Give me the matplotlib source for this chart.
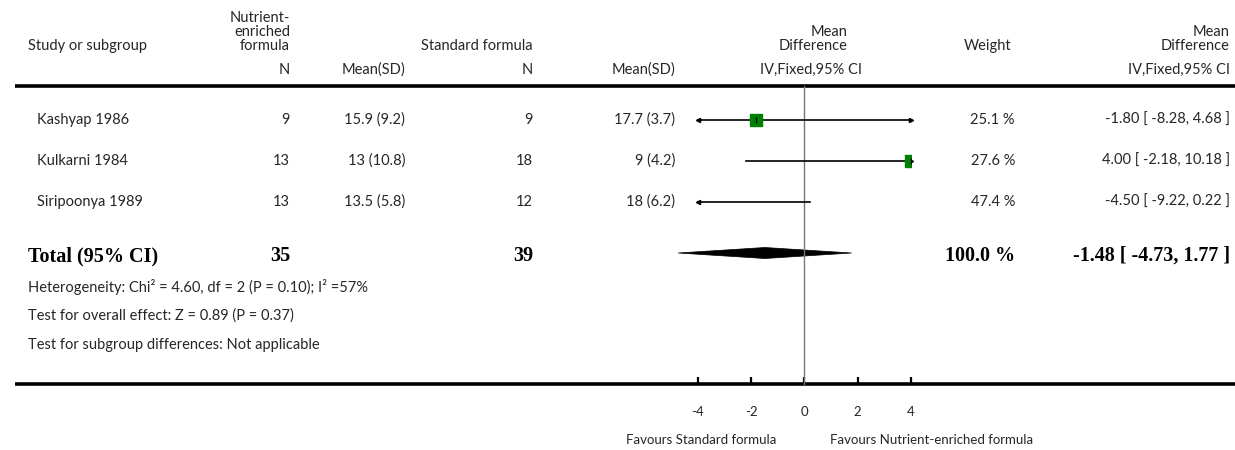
import matplotlib
matplotlib.use("Agg")
import matplotlib.pyplot as plt
from matplotlib.patches import Polygon

# ---------- data ----------
studies = ["Kashyap 1986", "Kulkarni 1984", "Siripoonya 1989"]
n_enriched = [9, 13, 13]
mean_sd_enriched = ["15.9 (9.2)", "13 (10.8)", "13.5 (5.8)"]
n_standard = [9, 18, 12]
mean_sd_standard = ["17.7 (3.7)", "9 (4.2)", "18 (6.2)"]
md = [-1.80, 4.00, -4.50]
ci_low = [-8.28, -2.18, -9.22]
ci_high = [4.68, 10.18, 0.22]
weights = [25.1, 27.6, 47.4]

total_n_enriched = 35
total_n_standard = 39
total_md = -1.48
total_low = -4.73
total_high = 1.77
total_weight = 100.0

heterogeneity = "Heterogeneity: Chi\u00b2 = 4.60, df = 2 (P = 0.10); I\u00b2 =57%"
overall_effect = "Test for overall effect: Z = 0.89 (P = 0.37)"
subgroup_diff = "Test for subgroup differences: Not applicable"

xticks = [-4, -2, 0, 2, 4]
xlim = (-4, 4)
favours_left = "Favours Standard formula"
favours_right = "Favours Nutrient-enriched formula"

# ---------- layout (pixels, y from top) ----------
W, H = 1235, 450
row_y = [120, 161, 202]
total_y = 256
top_rule, bottom_rule = 86, 384
plot_x0, plot_x1 = 697.7, 911

sans = "Lato"
serif = "Liberation Serif"
txt = "#262626"
fs = 10.5

fig = plt.figure(figsize=(W / 100, H / 100), dpi=100)
ax = fig.add_axes([0, 0, 1, 1])
ax.set_xlim(0, W)
ax.set_ylim(H, 0)
ax.axis("off")


def t(x, y, s, ha="right", **kw):
    kw.setdefault("family", sans)
    kw.setdefault("fontsize", fs)
    kw.setdefault("color", txt)
    ax.text(x, y, s, ha=ha, va="center", **kw)


# header
t(290, 18, "Nutrient-")
t(290, 32, "enriched")
t(290, 46, "formula")
t(28, 46, "Study or subgroup", ha="left")
t(533, 46, "Standard formula")
t(848, 32, "Mean")
t(848, 46, "Difference")
t(1011, 46, "Weight")
t(1230, 32, "Mean")
t(1230, 46, "Difference")
t(290, 70, "N")
t(405, 70, "Mean(SD)")
t(533, 70, "N")
t(675, 70, "Mean(SD)")
t(862, 70, "IV,Fixed,95% CI")
t(1230, 70, "IV,Fixed,95% CI")

ax.plot([15, W], [top_rule, top_rule], color="black", lw=2.6, solid_capstyle="butt")
ax.plot([15, W], [bottom_rule, bottom_rule], color="black", lw=2.6, solid_capstyle="butt")

# study rows
for i, y in enumerate(row_y):
    t(37, y, studies[i], ha="left")
    t(290, y, str(n_enriched[i]))
    t(405, y, mean_sd_enriched[i])
    t(533, y, str(n_standard[i]))
    t(675, y, mean_sd_standard[i])
    t(1015, y, f"{weights[i]:.1f} %")
    t(1230, y, f"{md[i]:.2f} [ {ci_low[i]:.2f}, {ci_high[i]:.2f} ]")

# total row
bold = dict(family=serif, fontsize=14.5, fontweight="bold", color="black")
t(28, total_y, "Total (95% CI)", ha="left", **bold)
t(290, total_y, str(total_n_enriched), **bold)
t(533, total_y, str(total_n_standard), **bold)
t(1015, total_y, f"{total_weight:.1f} %", **bold)
t(1230, total_y, f"{total_md:.2f} [ {total_low:.2f}, {total_high:.2f} ]", **bold)

t(28, 287, heterogeneity, ha="left")
t(28, 316, overall_effect, ha="left")
t(28, 345, subgroup_diff, ha="left")

# ---------- forest panel ----------
fax = fig.add_axes([plot_x0 / W, (H - bottom_rule) / H,
                    (plot_x1 - plot_x0) / W, (bottom_rule - top_rule) / H])
fax.set_xlim(*xlim)
fax.set_ylim(bottom_rule, top_rule)
fax.patch.set_alpha(0)
for side in ["top", "left", "right", "bottom"]:
    fax.spines[side].set_visible(False)
fax.set_yticks([])
fax.set_xticks(xticks)
fax.set_xticklabels([str(v) for v in xticks], family=sans, fontsize=9.5, color=txt)
fax.tick_params(axis="x", direction="in", length=5, width=1.6, pad=16, color="black")

fax.axvline(0, color="#777777", lw=1, clip_on=False)

for i, y in enumerate(row_y):
    lo = max(ci_low[i], xlim[0])
    hi = min(ci_high[i], xlim[1])
    fax.plot([lo, hi], [y, y], color="black", lw=1.2, clip_on=False)
    if ci_low[i] < xlim[0]:
        fax.plot(xlim[0], y, marker="<", color="black", ms=3, clip_on=False)
    if ci_high[i] > xlim[1]:
        fax.plot(xlim[1], y, marker=">", color="black", ms=3, clip_on=False)
    if xlim[0] <= md[i] <= xlim[1]:
        fax.plot(md[i], y, marker="s", color="#008000", mec="#008000",
                 ms=1.6 * weights[i] ** 0.5, clip_on=True)
        fax.plot(md[i], y, marker="|", color="black", ms=5, mew=1, clip_on=True)

# pooled estimate diamond
dy = total_y - 3
half_h = 5.5
diamond = Polygon([(total_low, dy), (total_md, dy - half_h),
                   (total_high, dy), (total_md, dy + half_h)],
                  closed=True, facecolor="black", edgecolor="black", lw=0.5,
                  clip_on=False)
fax.add_patch(diamond)

t(776, 440, favours_left, fontsize=9.5)
t(830, 440, favours_right, ha="left", fontsize=9.5)

fig.savefig("out.png", dpi=100)
